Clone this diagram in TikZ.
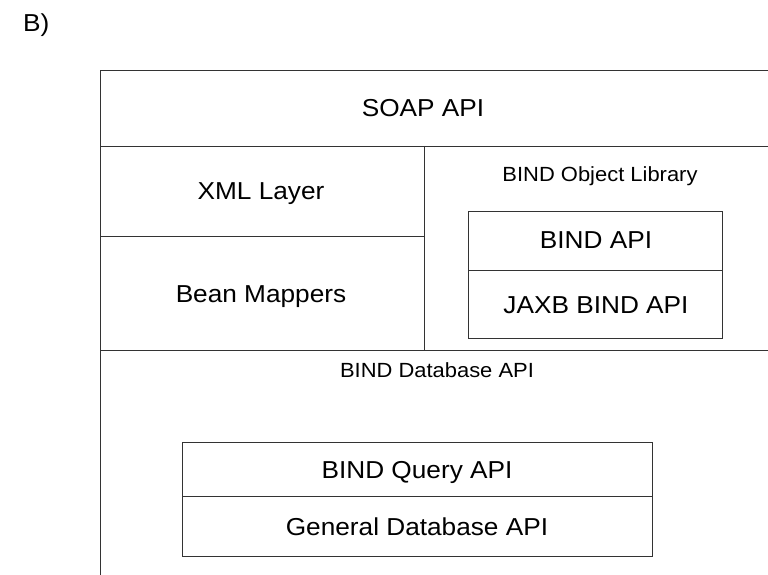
\documentclass[tikz,border=0pt]{standalone}
\usepackage{fontspec}
\setmainfont{Liberation Sans}[FakeStretch=1.07]
\begin{document}
\begin{tikzpicture}[x=1bp,y=-1bp,
  ln/.style={draw=black!80,line width=0.9bp},
  big/.style={font=\fontsize{24.5bp}{28bp}\selectfont,anchor=base,inner sep=0pt},
  small/.style={font=\fontsize{20.5bp}{24bp}\selectfont,anchor=base,inner sep=0pt}]
\useasboundingbox (0,0) rectangle (768,575);
% outer frame lines
\coordinate (tl) at (100,70);
\coordinate (tr) at (768,70);
\coordinate (bl) at (100,575);
\draw[ln] (tr) -- (tl) -- (bl);
\draw[ln] (100,146) -- (768,146);
\draw[ln] (424,146) -- (424,350);
\draw[ln] (100,236) -- (424,236);
\draw[ln] (100,350) -- (563,350);
\draw[ln] (563,350.8) -- (768,350.8);
% object library boxes
\draw[ln] (468,211) rectangle (722,338);
\draw[ln] (468,270) -- (722,270);
% query boxes
\draw[ln] (182,442) rectangle (652,556);
\draw[ln] (182,496) -- (652,496);
% labels
\node[big,anchor=base west] (lab) at (23,32) {B)};
\node[big] (soap) at (423,117) {SOAP API};
\node[big] (xml) at (261,200) {XML Layer};
\node[big] (bean) at (261,302) {Bean Mappers};
\node[small] (objlib) at (600,181.5) {BIND Object Library};
\node[big] (bindapi) at (596,248) {BIND API};
\node[big] (jaxb) at (596,313) {JAXB BIND API};
\node[small] (dbapi) at (437,377) {BIND Database API};
\node[big] (query) at (417,478) {BIND Query API};
\node[big] (general) at (417,535) {General Database API};
\end{tikzpicture}
\end{document}
